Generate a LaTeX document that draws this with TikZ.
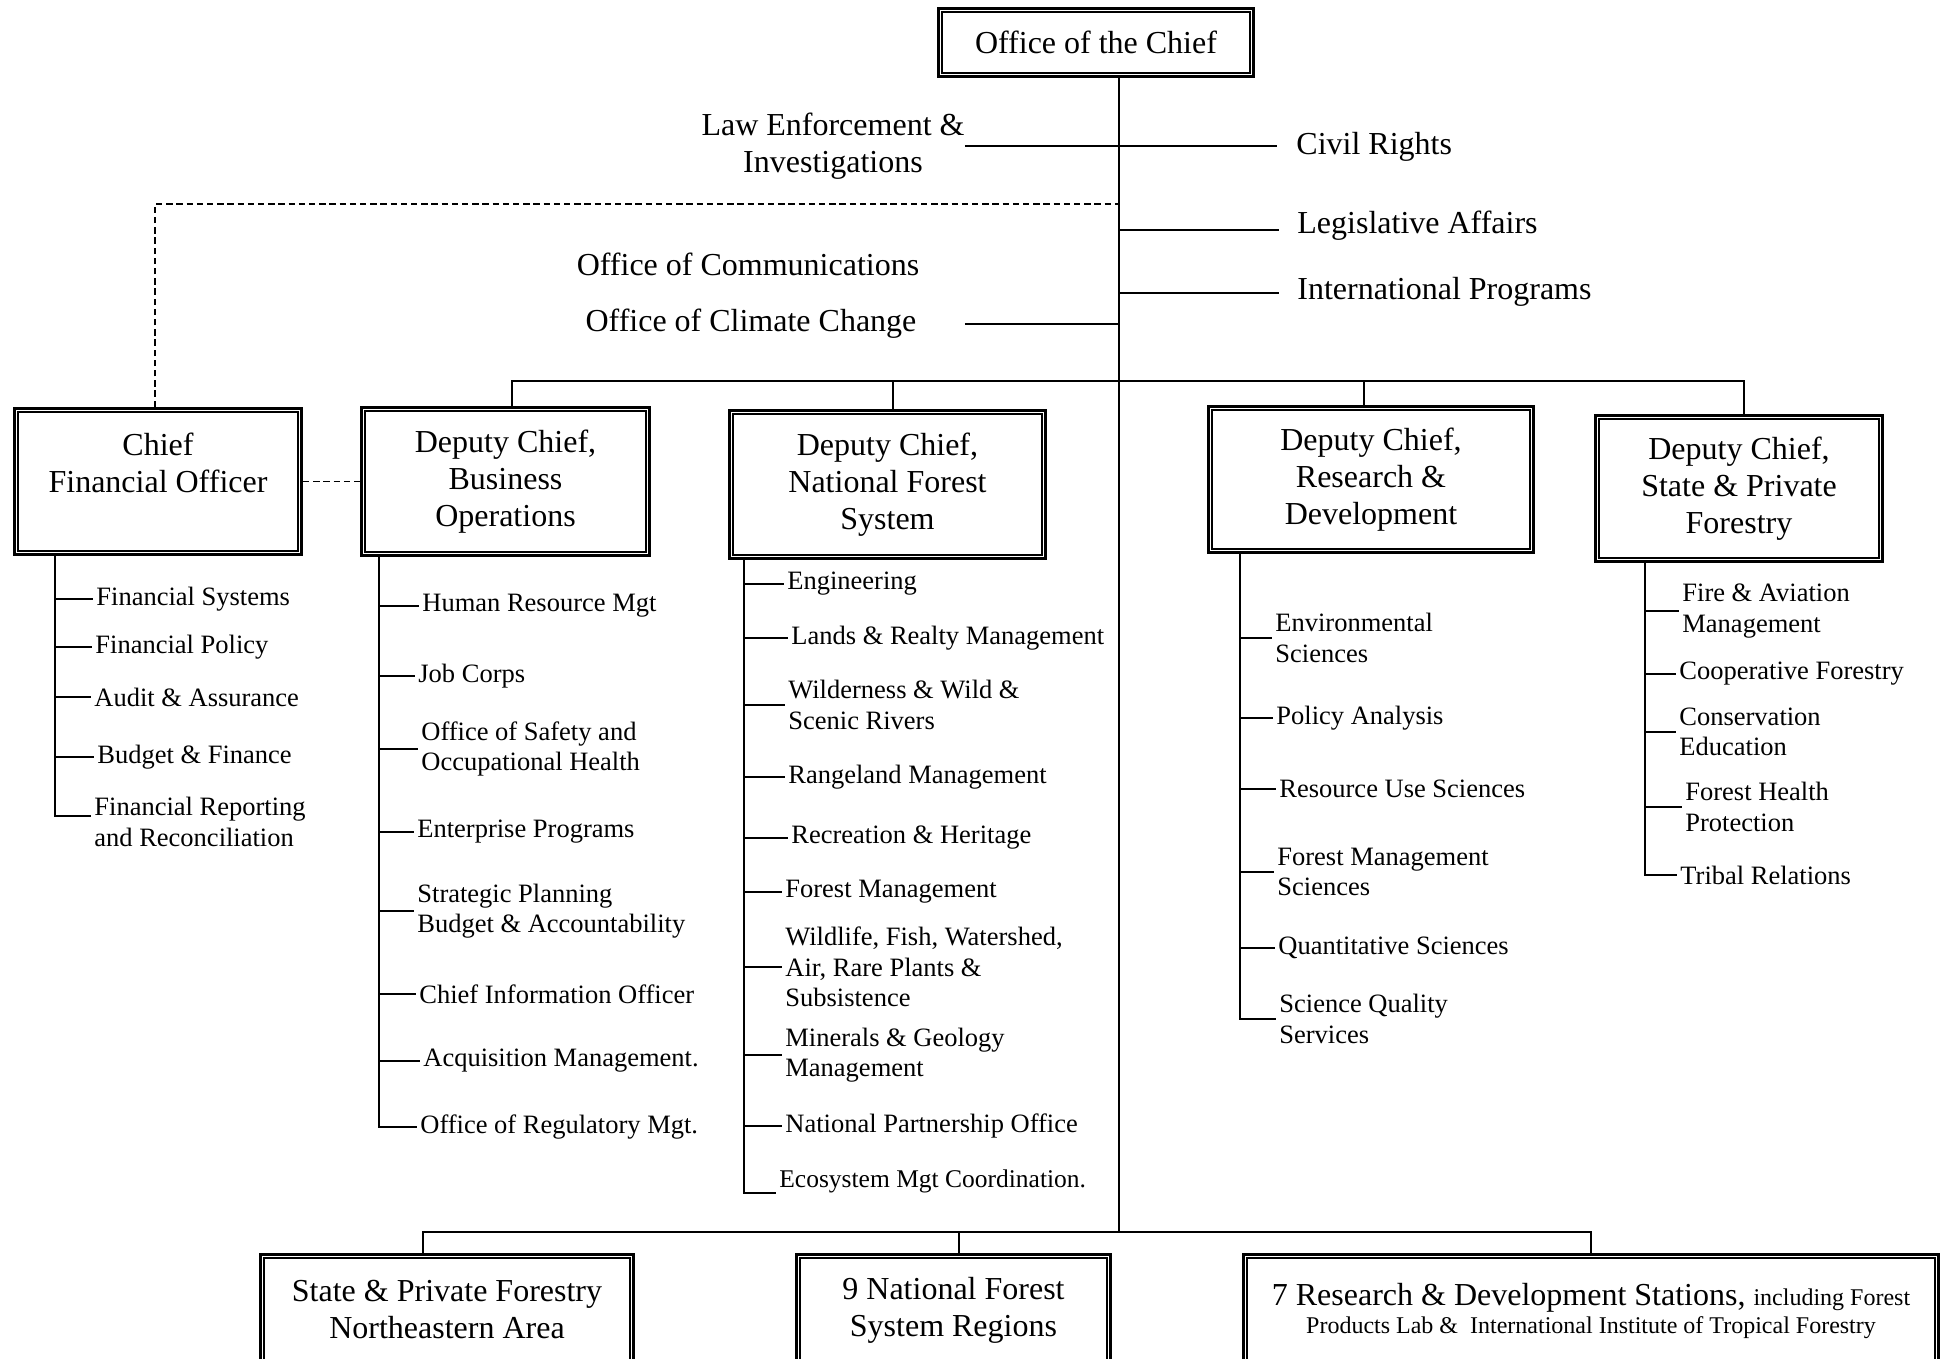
\documentclass[tikz,border=0pt]{standalone}
\usepackage{fontspec}
\setmainfont{Liberation Serif}
\newcommand\fBig{\fontsize{16}{18.5}\selectfont}
\newcommand\fItem{\fontsize{13.25}{15.25}\selectfont}
\newcommand\fEco{\fontsize{12.75}{15}\selectfont}
\newcommand\fSmall{\fontsize{12}{15}\selectfont}
\tikzset{
  obox/.style={draw, line width=1.6pt, inner sep=0pt, align=center, font=\fBig},
  ibox/.style={line width=1pt},
  conn/.style={line width=0.8pt},
  dashconn/.style={line width=0.8pt, dash pattern=on 3.2pt off 1.9pt},
  biglab/.style={inner sep=0pt, align=center, font=\fBig},
  item/.style={inner ysep=0pt, inner xsep=1.5pt, anchor=west, align=left, font=\fItem},
}
\newcommand\orgbox[6]{%
  \node[obox, minimum width={(#4-#2-3.2)*0.5pt}, minimum height={(#5-#3-3.2)*0.5pt}] (#1) at ({(#2+#4)/2},{(#3+#5)/2}) {#6};
  \draw[ibox] ([shift={(5,5)}]#1.north west) rectangle ([shift={(-5,-5)}]#1.south east);
}
\begin{document}
\begin{tikzpicture}[x=0.5pt,y=-0.5pt]
\useasboundingbox (0,0) rectangle (1944,1359);
\fill[white] (0,0) rectangle (1944,1359);
\clip (0,0) rectangle (1944,1359);

% ---------- boxes ----------
\orgbox{chief}{937}{7}{1255}{78}{Office of the Chief}
\orgbox{cfo}{13}{407}{303}{556}{Chief\\Financial Officer\\\mbox{}}
\orgbox{bo}{360}{406}{651}{557}{Deputy Chief,\\Business\\Operations}
\orgbox{nfs}{728}{409}{1047}{560}{Deputy Chief,\\National Forest\\System}
\orgbox{rd}{1207}{405}{1535}{554}{Deputy Chief,\\Research \&\\Development}
\orgbox{spf}{1594}{414}{1884}{563}{Deputy Chief,\\State \& Private\\Forestry}
\orgbox{ne}{259}{1253}{635}{1367}{State \& Private Forestry\\Northeastern Area}
\orgbox{rgn}{795}{1253}{1112}{1367}{9 National Forest\\System Regions}
\orgbox{stn}{1242}{1253}{1940}{1369}{7 Research \& Development Stations, {\fSmall including Forest}\\[-4.5pt]{\fSmall Products Lab \& \ International Institute of Tropical Forestry}}

% ---------- staff offices ----------
\node[biglab] (law) at (833,146) {Law Enforcement \&\\Investigations};
\node[biglab, anchor=west] (civil) at (1296,147) {Civil Rights};
\node[biglab, anchor=west] (leg) at (1297,226) {Legislative Affairs};
\node[biglab, anchor=west] (intl) at (1297,292) {International Programs};
\node[biglab] (comm) at (748,264) {Office of Communications};
\node[biglab] (clim) at (751,324) {Office of Climate Change};

% ---------- trunk and bars ----------
\coordinate (trunk) at (1119,1232);
\coordinate (dashJ) at (1119,204);
\coordinate (barY) at (1119,381);
\draw[conn] (chief.south -| trunk) -- (trunk);

\coordinate (civL) at ([xshift=-9.5pt]civil.west);
\draw[conn] (law.east) -- (law.east -| civL);
\coordinate (legL) at ([xshift=-9pt,yshift=-2pt]leg.west);
\draw[conn] (legL -| trunk) -- (legL);
\coordinate (intlL) at ([xshift=-9pt,yshift=-0.5pt]intl.west);
\draw[conn] (intlL -| trunk) -- (intlL);
\draw[conn] ([xshift=24pt]clim.east) -- (clim.east -| trunk);

\draw[dashconn] ([xshift=-1.5pt]cfo.north) |- (dashJ);
\draw[dashconn] (cfo.east) -- (bo.west);

\coordinate (boN) at ([xshift=3.25pt]bo.north);
\coordinate (nfsN) at ([xshift=2.75pt]nfs.north);
\coordinate (rdN) at ([xshift=-3.5pt]rd.north);
\coordinate (spfN) at ([xshift=2.5pt]spf.north);
\draw[conn] (boN) |- (barY) -| (spfN);
\draw[conn] (nfsN) -- (nfsN |- barY);
\draw[conn] (rdN) -- (rdN |- barY);

\coordinate (neN) at ([xshift=-12pt]ne.north);
\coordinate (rgnN) at ([xshift=2.75pt]rgn.north);
\draw[conn] (neN) |- (trunk) -| (stn.north);
\draw[conn] (rgnN) -- (rgnN |- trunk);

% ---------- CFO list ----------
\coordinate (cfoS) at (55,556);
\node[item] (fsys) at (93,599) {Financial Systems};
\node[item] (fpol) at (92,647) {Financial Policy};
\node[item] (faud) at (91,697) {Audit \& Assurance};
\node[item] (fbud) at (94,757) {Budget \& Finance};
\node[item] (frep) at (91,822) {Financial Reporting\\and Reconciliation};
\draw[conn] (cfo.south -| cfoS) |- ([yshift=3pt]frep.west);
\foreach \n in {fsys,fpol,faud,fbud} \draw[conn] (\n.west -| cfoS) -- (\n.west);

% ---------- Business Operations list ----------
\coordinate (boS) at (379,557);
\node[item] (hr) at (419,606) {Human Resource Mgt};
\node[item] (job) at (415,676) {Job Corps};
\node[item] (safe) at (418,749) {Office of Safety and\\Occupational Health};
\node[item] (ent) at (414,832) {Enterprise Programs};
\node[item] (strat) at (414,911) {Strategic Planning\\Budget \& Accountability};
\node[item] (cio) at (416,994) {Chief Information Officer};
\node[item] (acq) at (420,1061) {Acquisition Management.};
\node[item] (reg) at (417,1127) {Office of Regulatory Mgt.};
\draw[conn] (bo.south -| boS) |- (reg.west);
\foreach \n in {hr,job,safe,ent,strat,cio,acq} \draw[conn] (\n.west -| boS) -- (\n.west);

% ---------- National Forest System list ----------
\coordinate (nfsS) at (744,560);
\node[item] (eng) at (784,584) {Engineering};
\node[item] (land) at (788,638) {Lands \& Realty Management};
\node[item] (wild) at (785,705) {Wilderness \& Wild \&\\Scenic Rivers};
\node[item] (range) at (785,777) {Rangeland Management};
\node[item] (recr) at (788,838) {Recreation \& Heritage};
\node[item] (fmg) at (782,892) {Forest Management};
\node[item] (wfw) at (782,967) {Wildlife, Fish, Watershed,\\Air, Rare Plants \&\\Subsistence};
\node[item] (mine) at (782,1055) {Minerals \& Geology\\Management};
\node[item] (npo) at (782,1126) {National Partnership Office};
\node[item, font=\fEco] (eco) at (776,1181) {Ecosystem Mgt Coordination.};
\draw[conn] (nfs.south -| nfsS) |- (eco.south west);
\foreach \n in {eng,land,wild,range,recr,fmg,wfw,mine,npo} \draw[conn] (\n.west -| nfsS) -- (\n.west);

% ---------- Research & Development list ----------
\coordinate (rdS) at (1240,554);
\node[item] (env) at (1272,638) {Environmental\\Sciences};
\node[item] (pola) at (1273,718) {Policy Analysis};
\node[item] (rus) at (1276,789) {Resource Use Sciences};
\node[item] (fms) at (1274,872) {Forest Management\\Sciences};
\node[item] (quant) at (1275,948) {Quantitative Sciences};
\node[item] (sqs) at (1276,1019) {Science Quality\\Services};
\draw[conn] (rd.south -| rdS) |- (sqs.west);
\foreach \n in {env,pola,rus,fms,quant} \draw[conn] (\n.west -| rdS) -- (\n.west);

% ---------- State & Private Forestry list ----------
\coordinate (spfS) at (1645,563);
\node[item] (fire) at (1679,611) {Fire \& Aviation\\Management};
\node[item] (coop) at (1676,674) {Cooperative Forestry};
\node[item] (cons) at (1676,732) {Conservation\\Education};
\node[item] (fhp) at (1682,807) {Forest Health\\Protection};
\node[item] (trib) at (1677,875) {Tribal Relations};
\draw[conn] (spf.south -| spfS) |- (trib.west);
\foreach \n in {fire,coop,cons,fhp} \draw[conn] (\n.west -| spfS) -- (\n.west);
\end{tikzpicture}
\end{document}
